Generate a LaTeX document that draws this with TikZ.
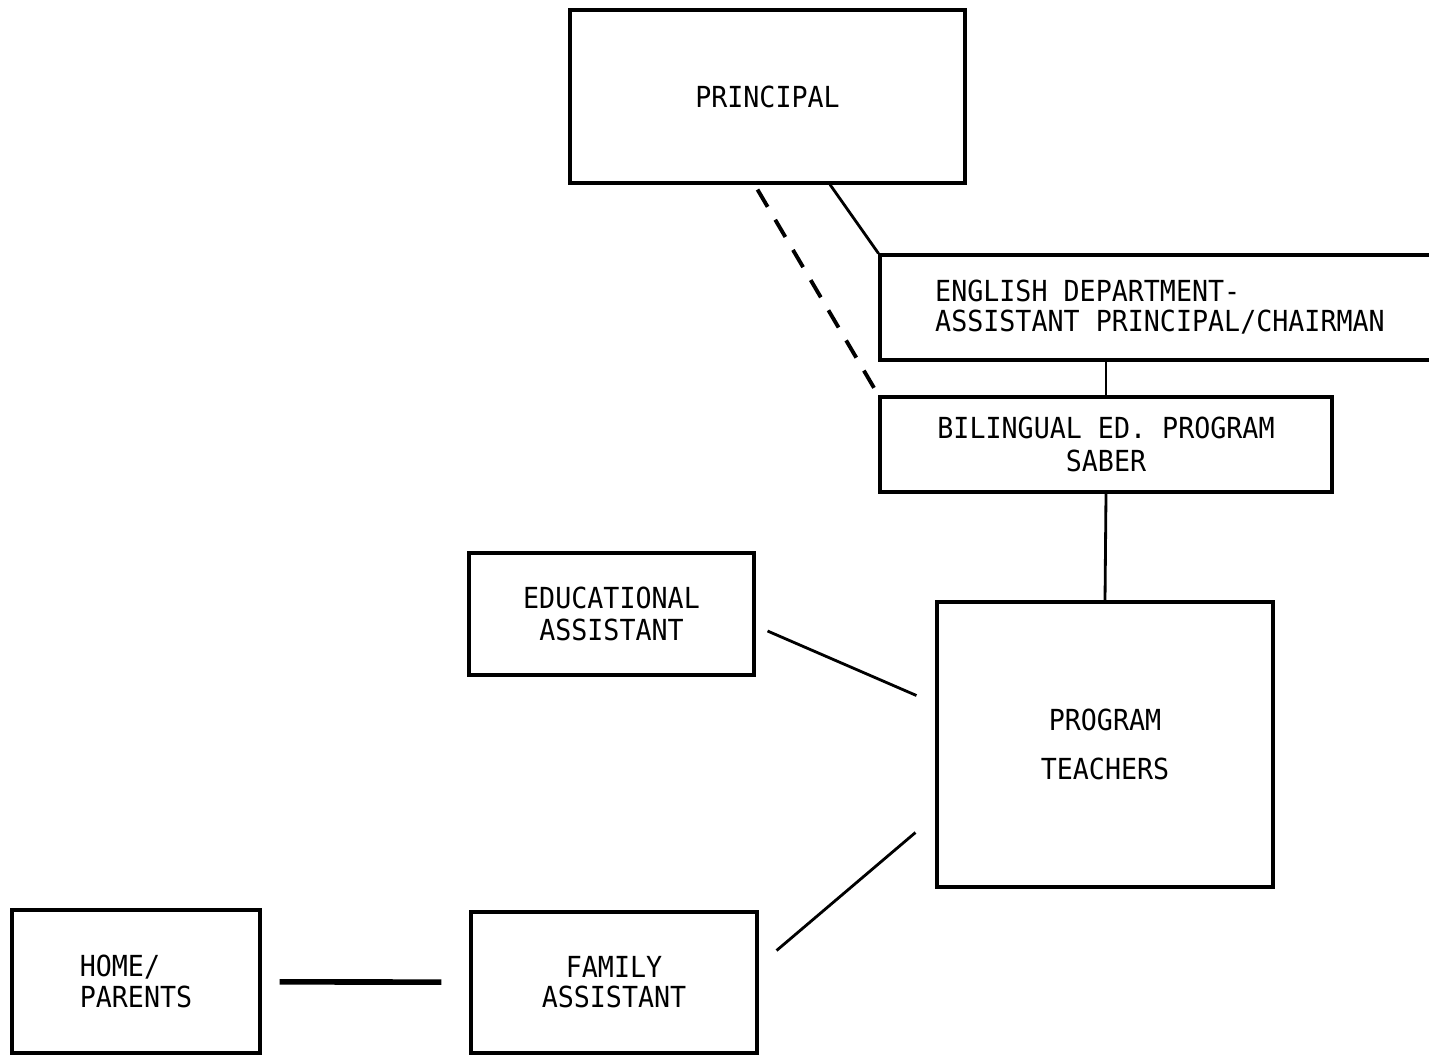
\documentclass[tikz,border=0pt]{standalone}
\usepackage{fontspec}
\setmonofont[FakeStretch=0.92]{DejaVu Sans Mono}
\usetikzlibrary{calc}
\newcommand{\orgfont}{\ttfamily\fontsize{16.5}{17}\selectfont}
\tikzset{
  box/.style={draw, rectangle, line width=1.8pt, align=center, font=\orgfont},
  link/.style={line width=1.6pt},
}
\begin{document}
\begin{tikzpicture}[x=0.02cm, y=-0.02cm]
    \useasboundingbox (0,0) rectangle (1429,1056);
    % boxes
    \node[box, minimum width=7.9cm, minimum height=3.46cm] (principal) at (767.5,96.5) {PRINCIPAL};
    \node[box, minimum width=11.2cm, minimum height=2.1cm, align=left] (english) at (1160,307.5)
      {ENGLISH DEPARTMENT-\\ASSISTANT PRINCIPAL/CHAIRMAN};
    \node[box, minimum width=9.04cm, minimum height=1.9cm] (bili) at (1106,444.5)
      {BILINGUAL ED. PROGRAM\\[1.5pt]SABER};
    \node[box, minimum width=5.7cm, minimum height=2.44cm] (edu) at (611.5,614)
      {EDUCATIONAL\\[1.5pt]ASSISTANT};
    \node[box, minimum width=6.72cm, minimum height=5.7cm] (teachers) at (1105,744.5)
      {PROGRAM\\[11pt]TEACHERS};
    \node[box, minimum width=4.96cm, minimum height=2.86cm, align=left] (home) at (136,981.5)
      {HOME/\\[1pt]PARENTS};
    \node[box, minimum width=5.72cm, minimum height=2.82cm] (family) at (614,982.5)
      {FAMILY\\ASSISTANT};
    % lines
    \draw[link] ($(principal.south)+(62.5,0)$) -- (english.north west);
    \draw[link, line width=2.2pt, dash pattern=on 0.4cm off 0.3cm] ($(principal.south)+(-10,5)$) -- (bili.north west);
    \draw[link] (english.south -| bili.north) -- (bili.north);
    \draw[link] (bili.south) -- (teachers.north);
    \draw[link] ($(edu.east)+(12,17)$) -- ($(teachers.west)+(-19,-49)$);
    \draw[link] ($(family.east)+(18,-32)$) -- ($(teachers.west)+(-20,88)$);
    \draw[line width=3.2pt, shorten <=0.36cm, shorten >=0.56cm] (home) -- (family);
  \end{tikzpicture}
\end{document}
